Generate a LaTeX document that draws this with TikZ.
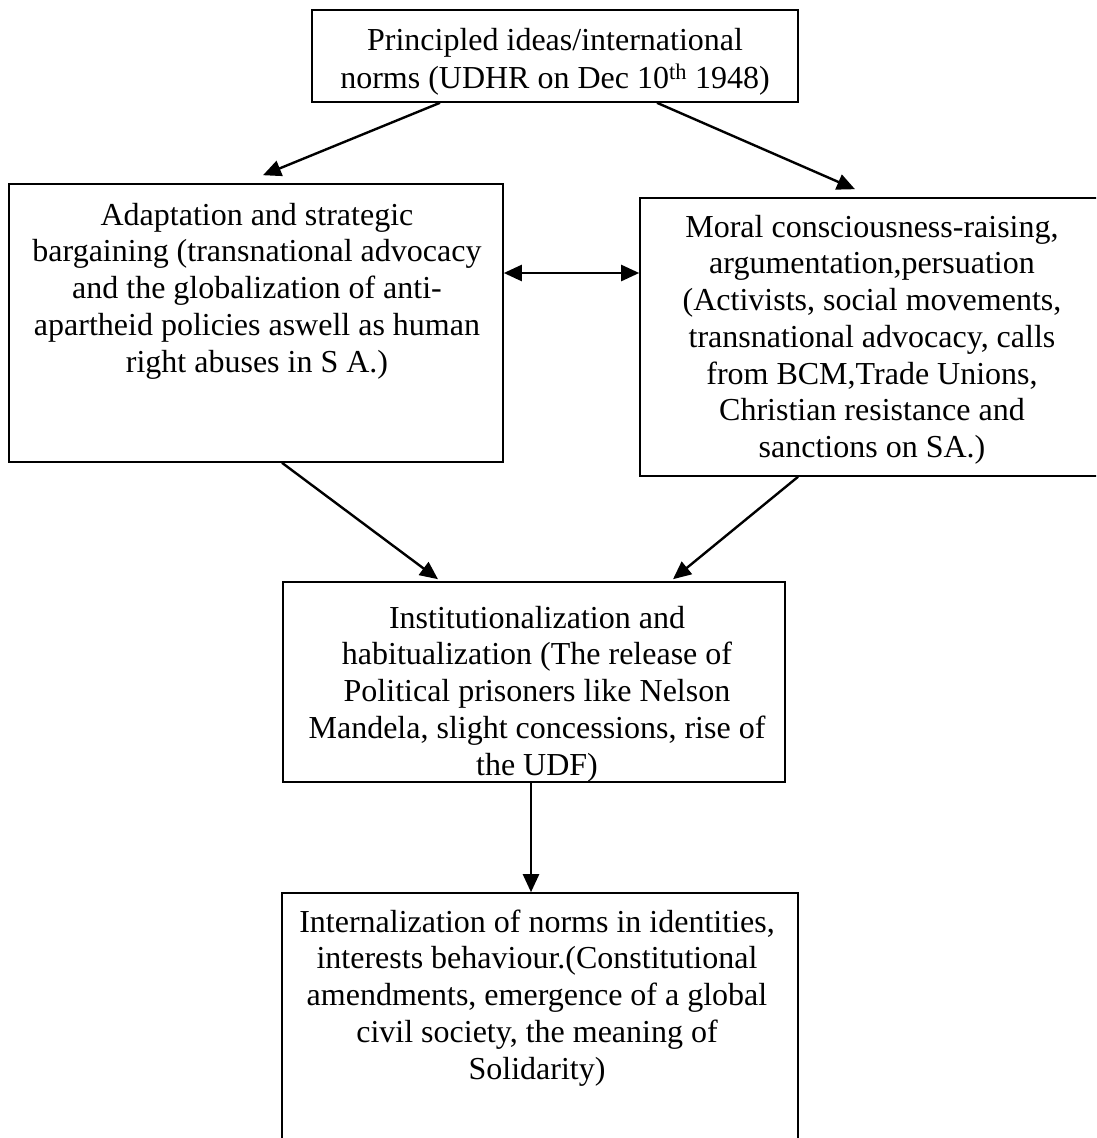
\documentclass[tikz,border=0pt]{standalone}
\usepackage{fontspec}
\setmainfont{Liberation Serif}
\usetikzlibrary{arrows.meta}
\begin{document}
\begin{tikzpicture}[x=1pt,y=-1pt,
  box/.style={draw, line width=1.6pt, rectangle, inner sep=0pt},
  txt/.style={align=center, inner sep=0pt, anchor=north, font=\fontsize{32}{36.7}\selectfont},
  conn/.style={line width=2.4pt, -{Triangle[length=18pt,width=16pt]}},
  dconn/.style={line width=2.4pt, {Triangle[length=18pt,width=16pt]}-{Triangle[length=18pt,width=16pt]}}]
\clip (0,0) rectangle (1096,1138);
\fill[white] (0,0) rectangle (1096,1138);
% boxes
\node[box, minimum width=486pt, minimum height=92pt] (nTop) at (555,56) {};
\node[box, minimum width=494pt, minimum height=278pt] (nAdapt) at (256,323) {};
\node[box, minimum width=464pt, minimum height=278pt] (nMoral) at (872,337) {};
\node[box, minimum width=502pt, minimum height=200pt] (nInst) at (534,682) {};
\node[box, minimum width=516pt, minimum height=257pt] (nIntern) at (540,1021.5) {};
% texts (first baseline = north + 26)
\node[txt] (tTop) at (555,24) {\rule{0pt}{26pt}Principled ideas/international\\[1.5pt]
  norms (UDHR on Dec 10\textsuperscript{th} 1948)};
\node[txt] (tAdapt) at (257,199) {\rule{0pt}{26pt}Adaptation and strategic\\
  bargaining (transnational advocacy\\
  and the globalization of anti-\\
  apartheid policies aswell as human\\
  right abuses in S A.)};
\node[txt] (tMoral) at (872,211) {\rule{0pt}{26pt}Moral consciousness-raising,\\
  argumentation,persuation\\
  (Activists, social movements,\\
  transnational advocacy, calls\\
  from BCM,Trade Unions,\\
  Christian resistance and\\
  sanctions on SA.)};
\node[txt] (tInst) at (537,602) {\rule{0pt}{26pt}Institutionalization and\\
  habitualization (The release of\\
  Political prisoners like Nelson\\
  Mandela, slight concessions, rise of\\
  the UDF)};
\node[txt] (tIntern) at (537,906) {\rule{0pt}{26pt}Internalization of norms in identities,\\
  interests behaviour.(Constitutional\\
  amendments, emergence of a global\\
  civil society, the meaning of\\
  Solidarity)};
% connectors
\draw[conn] ([xshift=-115pt]nTop.south) -- ([xshift=7pt,yshift=8pt]nAdapt.north);
\draw[conn] ([xshift=102pt]nTop.south) -- ([xshift=-17pt,yshift=8pt]nMoral.north);
\draw[dconn] ([yshift=50pt]nAdapt.east) -- ([yshift=64pt]nMoral.west);
\draw[conn] ([xshift=26pt]nAdapt.south) -- ([xshift=-96pt,yshift=2pt]nInst.north);
\draw[conn] ([xshift=-74pt]nMoral.south) -- ([xshift=139pt,yshift=2pt]nInst.north);
\draw[conn] ([xshift=-3pt]nInst.south) -- ([xshift=-9pt]nIntern.north);
\end{tikzpicture}
\end{document}
